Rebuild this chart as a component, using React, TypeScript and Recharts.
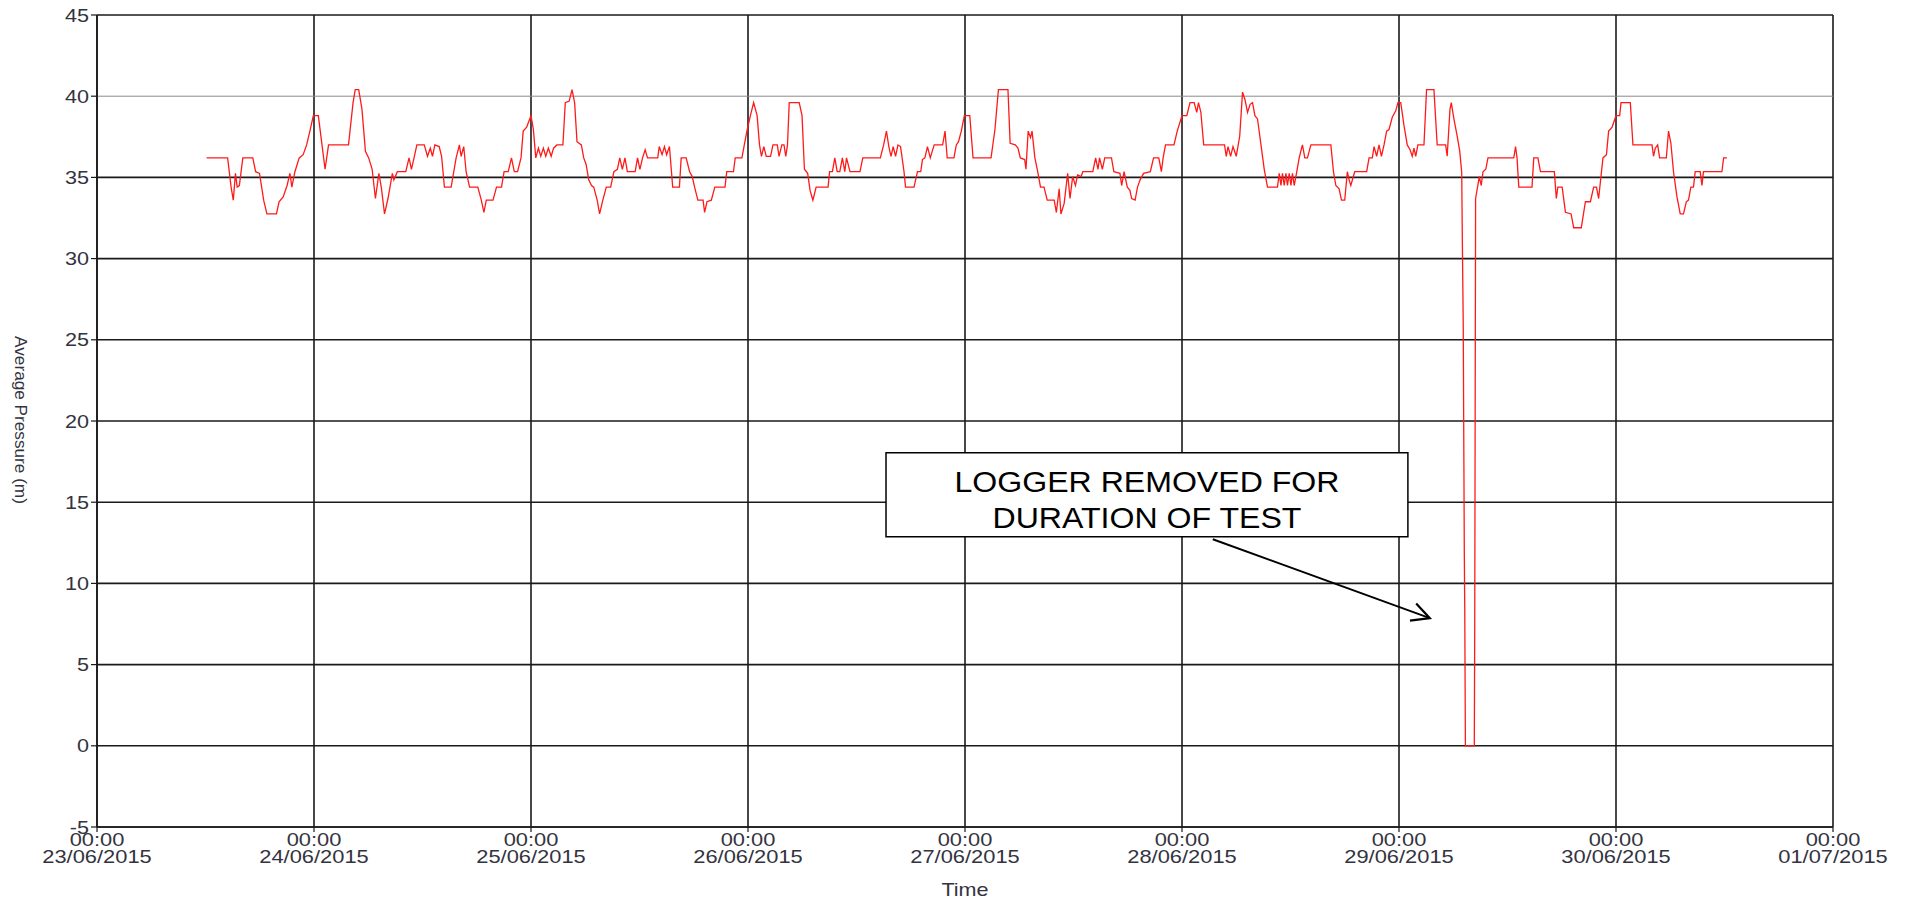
import React from "react";
import {
  LineChart,
  Line,
  XAxis,
  YAxis,
  CartesianGrid,
  ReferenceArea,
  ReferenceLine,
} from "recharts";

// time in days since 23/06/2015 00:00
const times: number[] = [
  0.505, 0.602, 0.618, 0.628, 0.638, 0.646, 0.656, 0.672, 0.718, 0.731, 0.749, 0.768, 0.783, 0.827, 0.839, 0.858,
  0.876, 0.889, 0.898, 0.912, 0.932, 0.95, 0.966, 0.981, 0.997, 1.02, 1.036, 1.051, 1.067, 1.159, 1.18, 1.19,
  1.206, 1.221, 1.237, 1.252, 1.268, 1.283, 1.299, 1.31, 1.325, 1.341, 1.361, 1.368, 1.384, 1.423, 1.438, 1.449,
  1.461, 1.474, 1.508, 1.523, 1.536, 1.546, 1.557, 1.577, 1.588, 1.601, 1.632, 1.655, 1.67, 1.678, 1.69, 1.701,
  1.717, 1.755, 1.771, 1.783, 1.794, 1.825, 1.841, 1.864, 1.876, 1.895, 1.91, 1.923, 1.938, 1.954, 1.964, 1.98,
  2.0, 2.011, 2.022, 2.034, 2.045, 2.057, 2.068, 2.08, 2.093, 2.104, 2.119, 2.147, 2.158, 2.176, 2.189, 2.201,
  2.212, 2.232, 2.243, 2.254, 2.266, 2.279, 2.289, 2.305, 2.316, 2.331, 2.347, 2.367, 2.382, 2.398, 2.409, 2.421,
  2.433, 2.444, 2.48, 2.491, 2.502, 2.514, 2.526, 2.537, 2.584, 2.591, 2.604, 2.615, 2.625, 2.638, 2.653, 2.684,
  2.692, 2.715, 2.731, 2.743, 2.754, 2.769, 2.793, 2.8, 2.811, 2.831, 2.847, 2.894, 2.902, 2.933, 2.941, 2.972,
  2.983, 2.995, 3.011, 3.026, 3.042, 3.053, 3.062, 3.073, 3.084, 3.104, 3.115, 3.135, 3.143, 3.156, 3.166, 3.174,
  3.182, 3.19, 3.236, 3.249, 3.26, 3.275, 3.286, 3.299, 3.314, 3.369, 3.376, 3.389, 3.4, 3.411, 3.423, 3.435,
  3.446, 3.454, 3.47, 3.516, 3.529, 3.61, 3.625, 3.638, 3.649, 3.659, 3.669, 3.68, 3.691, 3.703, 3.719, 3.726,
  3.765, 3.781, 3.796, 3.804, 3.815, 3.827, 3.84, 3.858, 3.897, 3.908, 3.918, 3.949, 3.96, 3.97, 3.983, 3.997,
  4.022, 4.037, 4.12, 4.138, 4.154, 4.198, 4.208, 4.232, 4.244, 4.255, 4.275, 4.281, 4.291, 4.302, 4.309, 4.322,
  4.333, 4.348, 4.364, 4.379, 4.411, 4.421, 4.434, 4.442, 4.457, 4.473, 4.484, 4.496, 4.509, 4.519, 4.535, 4.543,
  4.589, 4.602, 4.613, 4.62, 4.633, 4.644, 4.675, 4.686, 4.714, 4.722, 4.733, 4.748, 4.76, 4.768, 4.784, 4.795,
  4.807, 4.823, 4.854, 4.869, 4.893, 4.905, 4.913, 4.924, 4.963, 4.978, 5.0, 5.022, 5.037, 5.056, 5.068, 5.076,
  5.087, 5.1, 5.196, 5.204, 5.212, 5.224, 5.235, 5.25, 5.266, 5.279, 5.29, 5.302, 5.314, 5.325, 5.336, 5.348,
  5.364, 5.379, 5.394, 5.44, 5.448, 5.456, 5.463, 5.471, 5.479, 5.486, 5.494, 5.502, 5.509, 5.517, 5.529, 5.54,
  5.555, 5.566, 5.578, 5.594, 5.686, 5.698, 5.709, 5.724, 5.735, 5.75, 5.762, 5.77, 5.778, 5.796, 5.851, 5.862,
  5.877, 5.885, 5.897, 5.908, 5.919, 5.931, 5.943, 5.954, 5.969, 5.985, 5.995, 6.008, 6.023, 6.038, 6.051, 6.061,
  6.069, 6.077, 6.087, 6.115, 6.127, 6.161, 6.176, 6.215, 6.222, 6.235, 6.241, 6.253, 6.268, 6.28, 6.289, 6.292,
  6.296, 6.301, 6.303, 6.306, 6.347, 6.349, 6.353, 6.37, 6.379, 6.387, 6.4, 6.41, 6.529, 6.537, 6.544, 6.552,
  6.613, 6.621, 6.64, 6.652, 6.716, 6.721, 6.725, 6.732, 6.752, 6.767, 6.793, 6.805, 6.84, 6.859, 6.882, 6.897,
  6.91, 6.92, 6.933, 6.94, 6.956, 6.966, 6.982, 7.0, 7.017, 7.023, 7.066, 7.078, 7.166, 7.173, 7.181, 7.192,
  7.201, 7.232, 7.242, 7.253, 7.265, 7.281, 7.296, 7.311, 7.324, 7.334, 7.345, 7.357, 7.365, 7.388, 7.396, 7.403,
  7.488, 7.496, 7.511,
];

// average pressure (m)
const pressure: number[] = [
  36.2, 36.2, 34.4, 33.6, 35.25, 34.4, 34.5, 36.2, 36.2, 35.35, 35.25, 33.6, 32.75, 32.75, 33.5, 33.8,
  34.5, 35.25, 34.4, 35.35, 36.2, 36.4, 37.0, 37.85, 38.8, 38.8, 37.1, 35.5, 37.0, 37.0, 39.6, 40.4,
  40.4, 39.2, 36.6, 36.2, 35.5, 33.7, 35.25, 34.4, 32.75, 33.7, 35.25, 34.85, 35.35, 35.35, 36.2, 35.5,
  36.2, 37.0, 37.0, 36.3, 36.8, 36.3, 37.0, 36.9, 36.3, 34.4, 34.4, 36.2, 37.0, 36.3, 36.9, 35.35,
  34.4, 34.4, 33.6, 32.85, 33.6, 33.6, 34.4, 34.4, 35.35, 35.35, 36.2, 35.35, 35.35, 36.2, 37.85, 38.1,
  38.8, 37.95, 36.2, 36.8, 36.3, 36.8, 36.3, 36.8, 36.3, 36.8, 37.0, 37.0, 39.6, 39.7, 40.4, 39.6,
  37.2, 37.0, 36.2, 35.8, 34.85, 34.5, 34.4, 33.6, 32.75, 33.6, 34.4, 34.4, 35.35, 35.5, 36.2, 35.5,
  36.2, 35.35, 35.35, 36.2, 35.5, 36.2, 36.7, 36.2, 36.2, 36.9, 36.4, 36.9, 36.4, 36.9, 34.4, 34.4,
  36.2, 36.2, 35.35, 35.05, 34.4, 33.6, 33.6, 32.85, 33.5, 33.6, 34.4, 34.4, 35.35, 35.35, 36.2, 36.2,
  37.0, 37.85, 38.8, 39.6, 38.8, 37.0, 36.3, 36.9, 36.3, 36.3, 37.0, 37.0, 36.3, 37.0, 37.0, 36.3,
  37.0, 39.6, 39.6, 38.8, 35.5, 35.25, 34.2, 33.6, 34.4, 34.4, 35.35, 35.35, 36.2, 35.35, 35.35, 36.2,
  35.35, 36.2, 35.35, 35.35, 36.2, 36.2, 37.0, 37.85, 36.9, 36.3, 36.9, 36.3, 37.0, 36.9, 35.35, 34.4,
  34.4, 35.35, 35.35, 36.1, 36.2, 36.9, 36.2, 37.0, 37.0, 37.85, 36.2, 36.2, 37.0, 37.2, 37.85, 38.8,
  38.8, 36.2, 36.2, 37.95, 40.4, 40.4, 37.1, 37.0, 36.8, 36.2, 36.1, 35.5, 37.85, 37.45, 37.85, 36.2,
  35.5, 34.4, 34.4, 33.6, 33.6, 32.85, 34.3, 32.75, 33.4, 35.25, 33.7, 35.05, 34.5, 35.15, 35.05, 35.35,
  35.35, 36.2, 35.5, 36.2, 35.5, 36.2, 36.2, 35.35, 35.25, 34.5, 35.35, 34.4, 34.2, 33.7, 33.6, 34.4,
  34.85, 35.25, 35.35, 36.2, 36.2, 35.35, 36.2, 37.0, 37.0, 37.85, 38.8, 38.8, 39.6, 39.6, 39.0, 39.6,
  39.0, 37.0, 37.0, 36.3, 36.9, 36.3, 36.9, 36.3, 37.55, 40.25, 39.8, 39.0, 39.5, 39.6, 38.8, 38.6,
  37.0, 35.5, 34.4, 34.4, 35.25, 34.5, 35.25, 34.5, 35.25, 34.5, 35.25, 34.5, 35.25, 34.5, 35.35, 36.2,
  37.0, 36.2, 36.2, 37.0, 37.0, 35.35, 34.5, 34.3, 33.6, 33.6, 35.35, 34.85, 34.5, 35.35, 35.35, 36.2,
  36.2, 36.9, 36.3, 37.0, 36.3, 37.0, 37.85, 37.95, 38.7, 39.1, 39.6, 39.6, 38.2, 37.0, 36.7, 36.3,
  36.8, 36.3, 37.0, 37.0, 40.4, 40.4, 37.0, 37.0, 36.3, 39.2, 39.6, 38.6, 37.55, 36.6, 35.3, 31.0,
  26.0, 11.8, 8.5, 0, 0, 7.3, 33.7, 35.05, 34.5, 35.35, 35.5, 36.2, 36.2, 36.9, 36.2, 34.4,
  34.4, 36.2, 36.2, 35.35, 35.35, 34.4, 33.7, 34.4, 34.4, 32.85, 32.75, 31.9, 31.9, 33.5, 33.5, 34.4,
  34.4, 33.7, 35.35, 36.2, 36.4, 37.85, 38.1, 38.8, 38.8, 39.6, 39.6, 37.0, 37.0, 36.3, 36.8, 37.0,
  36.2, 36.2, 37.85, 37.1, 35.35, 33.8, 32.75, 32.75, 33.5, 33.6, 34.4, 34.4, 35.35, 35.35, 34.5, 35.35,
  35.35, 36.2, 36.2,
];

const xTicks: number[] = [0, 1, 2, 3, 4, 5, 6, 7, 8];
const xTickTimes: string[] = ["00:00", "00:00", "00:00", "00:00", "00:00", "00:00", "00:00", "00:00", "00:00"];
const xTickDates: string[] = [
  "23/06/2015", "24/06/2015", "25/06/2015", "26/06/2015", "27/06/2015",
  "28/06/2015", "29/06/2015", "30/06/2015", "01/07/2015",
];
const yTicks: number[] = [-5, 0, 5, 10, 15, 20, 25, 30, 35, 40, 45];
const darkGridValues: number[] = [-5, 0, 5, 10, 15, 20, 25, 30, 35, 45];
const lightGridValues: number[] = [40];

const annotationLines: string[] = ["LOGGER REMOVED FOR", "DURATION OF TEST"];
const annotationBox = { x1: 3.636, x2: 6.041, y1: 12.87, y2: 18.04 };
const annotationArrow = [
  { x: 5.142, y: 12.72 },
  { x: 6.142, y: 7.86 },
];

const data = times.map((t, i) => ({ t, v: pressure[i] }));

const FONT = "'Liberation Sans', Arial, Helvetica, sans-serif";
const TEXT = "#333340";

function XTick(props: any) {
  const { x, y, payload } = props;
  const i = Math.round(payload.value);
  return (
    <g transform={`translate(${x},${y})`}>
      <text textAnchor="middle" fill={TEXT} fontSize={17.5} fontFamily={FONT} transform="scale(1.25,1)">
        <tspan x={0} y={13.5}>{xTickTimes[i]}</tspan>
        <tspan x={0} y={31.5}>{xTickDates[i]}</tspan>
      </text>
    </g>
  );
}

function YTick(props: any) {
  const { x, y, payload } = props;
  return (
    <g transform={`translate(${x},${y})`}>
      <text textAnchor="end" fill={TEXT} fontSize={18} fontFamily={FONT} transform="scale(1.2,1)" y={6.5}>
        {payload.value}
      </text>
    </g>
  );
}

function YLabel(props: any) {
  const vb = props.viewBox || { x: 0, y: 15, width: 97, height: 812 };
  const cx = vb.x + 21;
  const cy = vb.y + vb.height / 2 - 1;
  return (
    <text
      x={cx}
      y={cy}
      textAnchor="middle"
      dominantBaseline="central"
      fill={TEXT}
      fontSize={17.2}
      fontFamily={FONT}
      transform={`rotate(90 ${cx} ${cy})`}
    >
      Average Pressure (m)
    </text>
  );
}

function XLabel(props: any) {
  const vb = props.viewBox || { x: 97, y: 827, width: 1736, height: 74 };
  const cx = vb.x + vb.width / 2;
  return (
    <g transform={`translate(${cx},${vb.y + 69})`}>
      <text textAnchor="middle" fill={TEXT} fontSize={18} fontFamily={FONT} transform="scale(1.2,1)">
        Time
      </text>
    </g>
  );
}

function AnnotationText(props: any) {
  const vb = props.viewBox;
  if (!vb) return null;
  const cx = vb.x + vb.width / 2;
  return (
    <g transform={`translate(${cx},${vb.y})`}>
      <text textAnchor="middle" fill="#000" fontSize={30} fontFamily={FONT} transform="scale(1.07,1)">
        <tspan x={0} y={39}>{annotationLines[0]}</tspan>
        <tspan x={0} y={75}>{annotationLines[1]}</tspan>
      </text>
    </g>
  );
}

function ArrowShape(props: any) {
  const { x1, y1, x2, y2 } = props;
  if ([x1, y1, x2, y2].some((v) => typeof v !== "number" || isNaN(v))) return null;
  const dx = x2 - x1;
  const dy = y2 - y1;
  const len = Math.sqrt(dx * dx + dy * dy) || 1;
  const ux = dx / len;
  const uy = dy / len;
  const head = 20;
  const ang = (27 * Math.PI) / 180;
  const c = Math.cos(ang);
  const s = Math.sin(ang);
  const ax = x2 - head * (ux * c - uy * s);
  const ay = y2 - head * (uy * c + ux * s);
  const bx = x2 - head * (ux * c + uy * s);
  const by = y2 - head * (uy * c - ux * s);
  return (
    <g>
      <line x1={x1} y1={y1} x2={x2} y2={y2} stroke="#000" strokeWidth={2} />
      <polyline points={`${ax},${ay} ${x2},${y2} ${bx},${by}`} fill="none" stroke="#000" strokeWidth={2.2} />
    </g>
  );
}

export default function App() {
  return (
    <div style={{ position: "absolute", left: 0, top: 0, width: 1908, height: 901, background: "#fff" }}>
      <LineChart width={1908} height={901} data={data} margin={{ top: 15, right: 75, bottom: 0, left: 0 }}>
        <CartesianGrid
          stroke="#1a1a1a"
          strokeWidth={1.6}
          horizontalValues={darkGridValues}
          verticalValues={xTicks}
        />
        <CartesianGrid stroke="#8a8a8a" strokeWidth={1} vertical={false} horizontalValues={lightGridValues} />
        <XAxis
          type="number"
          dataKey="t"
          domain={[0, 8]}
          ticks={xTicks}
          interval={0}
          allowDataOverflow
          height={74}
          tickSize={5}
          tickMargin={0}
          axisLine={{ stroke: "#1a1a1a", strokeWidth: 1.6 }}
          tickLine={{ stroke: "#1a1a1a", strokeWidth: 1.2 }}
          tick={<XTick />}
          label={<XLabel />}
        />
        <YAxis
          type="number"
          domain={[-5, 45]}
          ticks={yTicks}
          interval={0}
          allowDataOverflow
          width={97}
          tickSize={6}
          tickMargin={2}
          axisLine={{ stroke: "#1a1a1a", strokeWidth: 1.6 }}
          tickLine={{ stroke: "#1a1a1a", strokeWidth: 1.2 }}
          tick={<YTick />}
          label={<YLabel />}
        />
        <ReferenceArea
          x1={annotationBox.x1}
          x2={annotationBox.x2}
          y1={annotationBox.y1}
          y2={annotationBox.y2}
          fill="#ffffff"
          fillOpacity={1}
          stroke="#000"
          strokeWidth={1.5}
          label={<AnnotationText />}
        />
        <ReferenceLine segment={annotationArrow} stroke="#000" shape={ArrowShape} />
        <Line
          type="linear"
          dataKey="v"
          stroke="#ff1a1a"
          strokeWidth={1.3}
          dot={false}
          activeDot={false}
          isAnimationActive={false}
        />
      </LineChart>
    </div>
  );
}
